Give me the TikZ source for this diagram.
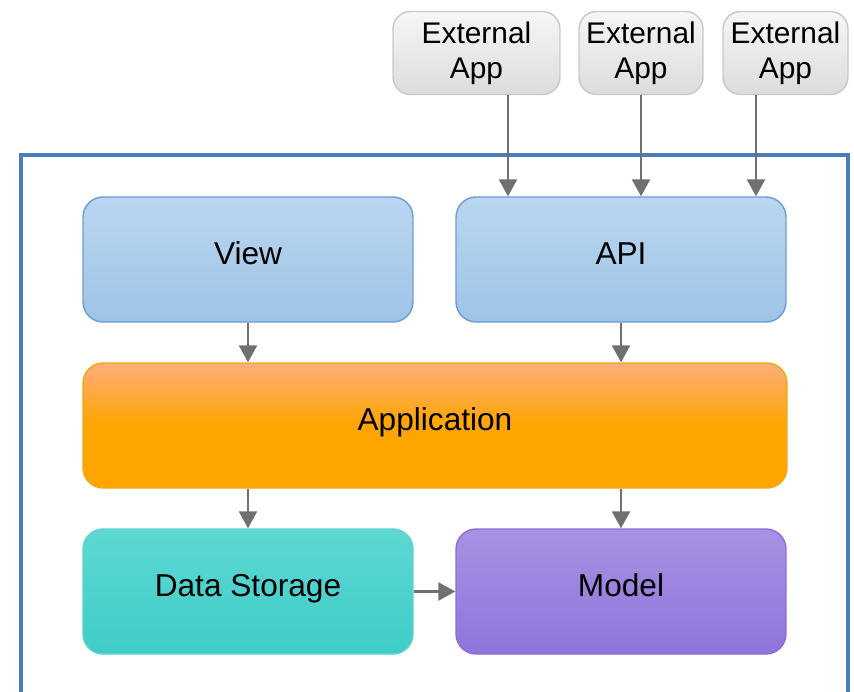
\documentclass[tikz,border=0pt]{standalone}
\usepackage{fontspec}
\setmainfont{Liberation Sans}
\usepackage{xcolor}
\definecolor{archframe}{RGB}{74, 126, 187}
\definecolor{archblueT}{RGB}{186, 214, 240}
\definecolor{archblueB}{RGB}{158, 196, 230}
\definecolor{archblueE}{RGB}{108, 156, 212}
\definecolor{archorangeT}{RGB}{253, 174, 122}
\definecolor{archorangeB}{RGB}{255, 165, 0}
\definecolor{archorangeE}{RGB}{240, 168, 20}
\definecolor{archtealT}{RGB}{94, 216, 211}
\definecolor{archtealB}{RGB}{62, 204, 200}
\definecolor{archtealE}{RGB}{90, 212, 206}
\definecolor{archpurpleT}{RGB}{168, 145, 227}
\definecolor{archpurpleB}{RGB}{143, 116, 219}
\definecolor{archpurpleE}{RGB}{138, 109, 216}
\definecolor{archgrayT}{RGB}{246, 246, 246}
\definecolor{archgrayB}{RGB}{220, 220, 220}
\definecolor{archgrayE}{RGB}{200, 200, 200}
\definecolor{archarrow}{RGB}{112, 112, 112}
\usetikzlibrary{arrows.meta}

\begin{document}
\begin{tikzpicture}[
    x=0.02cm, y=-0.02cm,
    block/.style={rounded corners=0.4cm, line width=0.8pt, align=center,
        font=\fontsize{18}{21}\selectfont, minimum height=2.5cm, inner sep=0pt,
        text height=12pt, text depth=6pt},
    blueblock/.style={block, draw=archblueE, top color=archblueT, bottom color=archblueB,
        minimum width=6.6cm},
    extapp/.style={rounded corners=0.35cm, line width=0.8pt, align=center,
        draw=archgrayE, top color=archgrayT, bottom color=archgrayB,
        font=\fontsize{17}{20}\selectfont, minimum height=1.66cm, inner sep=0pt},
    arr/.style={draw=archarrow, line width=1.4pt,
        -{Triangle[length=0.34cm, width=0.36cm]}}
]

\useasboundingbox (0, 0) rectangle (854, 691);

% === Marco ===
\draw[archframe, line width=2pt] (21, 695) -- (21, 155) -- (848, 155) -- (848, 695);

% === Aplicaciones externas ===
\node[extapp, minimum width=3.34cm] (ext1) at (476.5, 53) {External\\App};
\node[extapp, minimum width=2.48cm] (ext2) at (641, 53) {External\\App};
\node[extapp, minimum width=2.5cm] (ext3) at (785.5, 53) {External\\App};

% === Capas ===
\node[blueblock] (view) at (248, 259.5) {View};
\node[blueblock] (api) at (621, 259.5) {API};
\node[block, draw=archorangeE, top color=archorangeT, bottom color=archorangeB,
    middle color=archorangeB, minimum width=14.08cm] (app) at (435, 425.5) {Application};
\node[block, draw=archtealE, top color=archtealT, bottom color=archtealB,
    minimum width=6.6cm] (store) at (248, 591.5) {Data Storage};
\node[block, draw=archpurpleE, top color=archpurpleT, bottom color=archpurpleB,
    minimum width=6.6cm] (model) at (621, 591.5) {Model};

% === Flechas ===
\draw[arr] ([xshift=0.63cm]ext1.south) coordinate (t1) -- (t1 |- api.north);
\draw[arr] (ext2.south) -- (ext2.south |- api.north);
\draw[arr] ([xshift=-0.59cm]ext3.south) coordinate (t3) -- (t3 |- api.north);

\draw[arr] (view.south) -- (view.south |- app.north);
\draw[arr] (api.south) -- (api.south |- app.north);
\draw[arr] (app.south -| view.south) -- (store.north);
\draw[arr] (app.south -| api.south) -- (model.north);
\draw[arr] (store.east) -- (model.west);

\end{tikzpicture}
\end{document}
